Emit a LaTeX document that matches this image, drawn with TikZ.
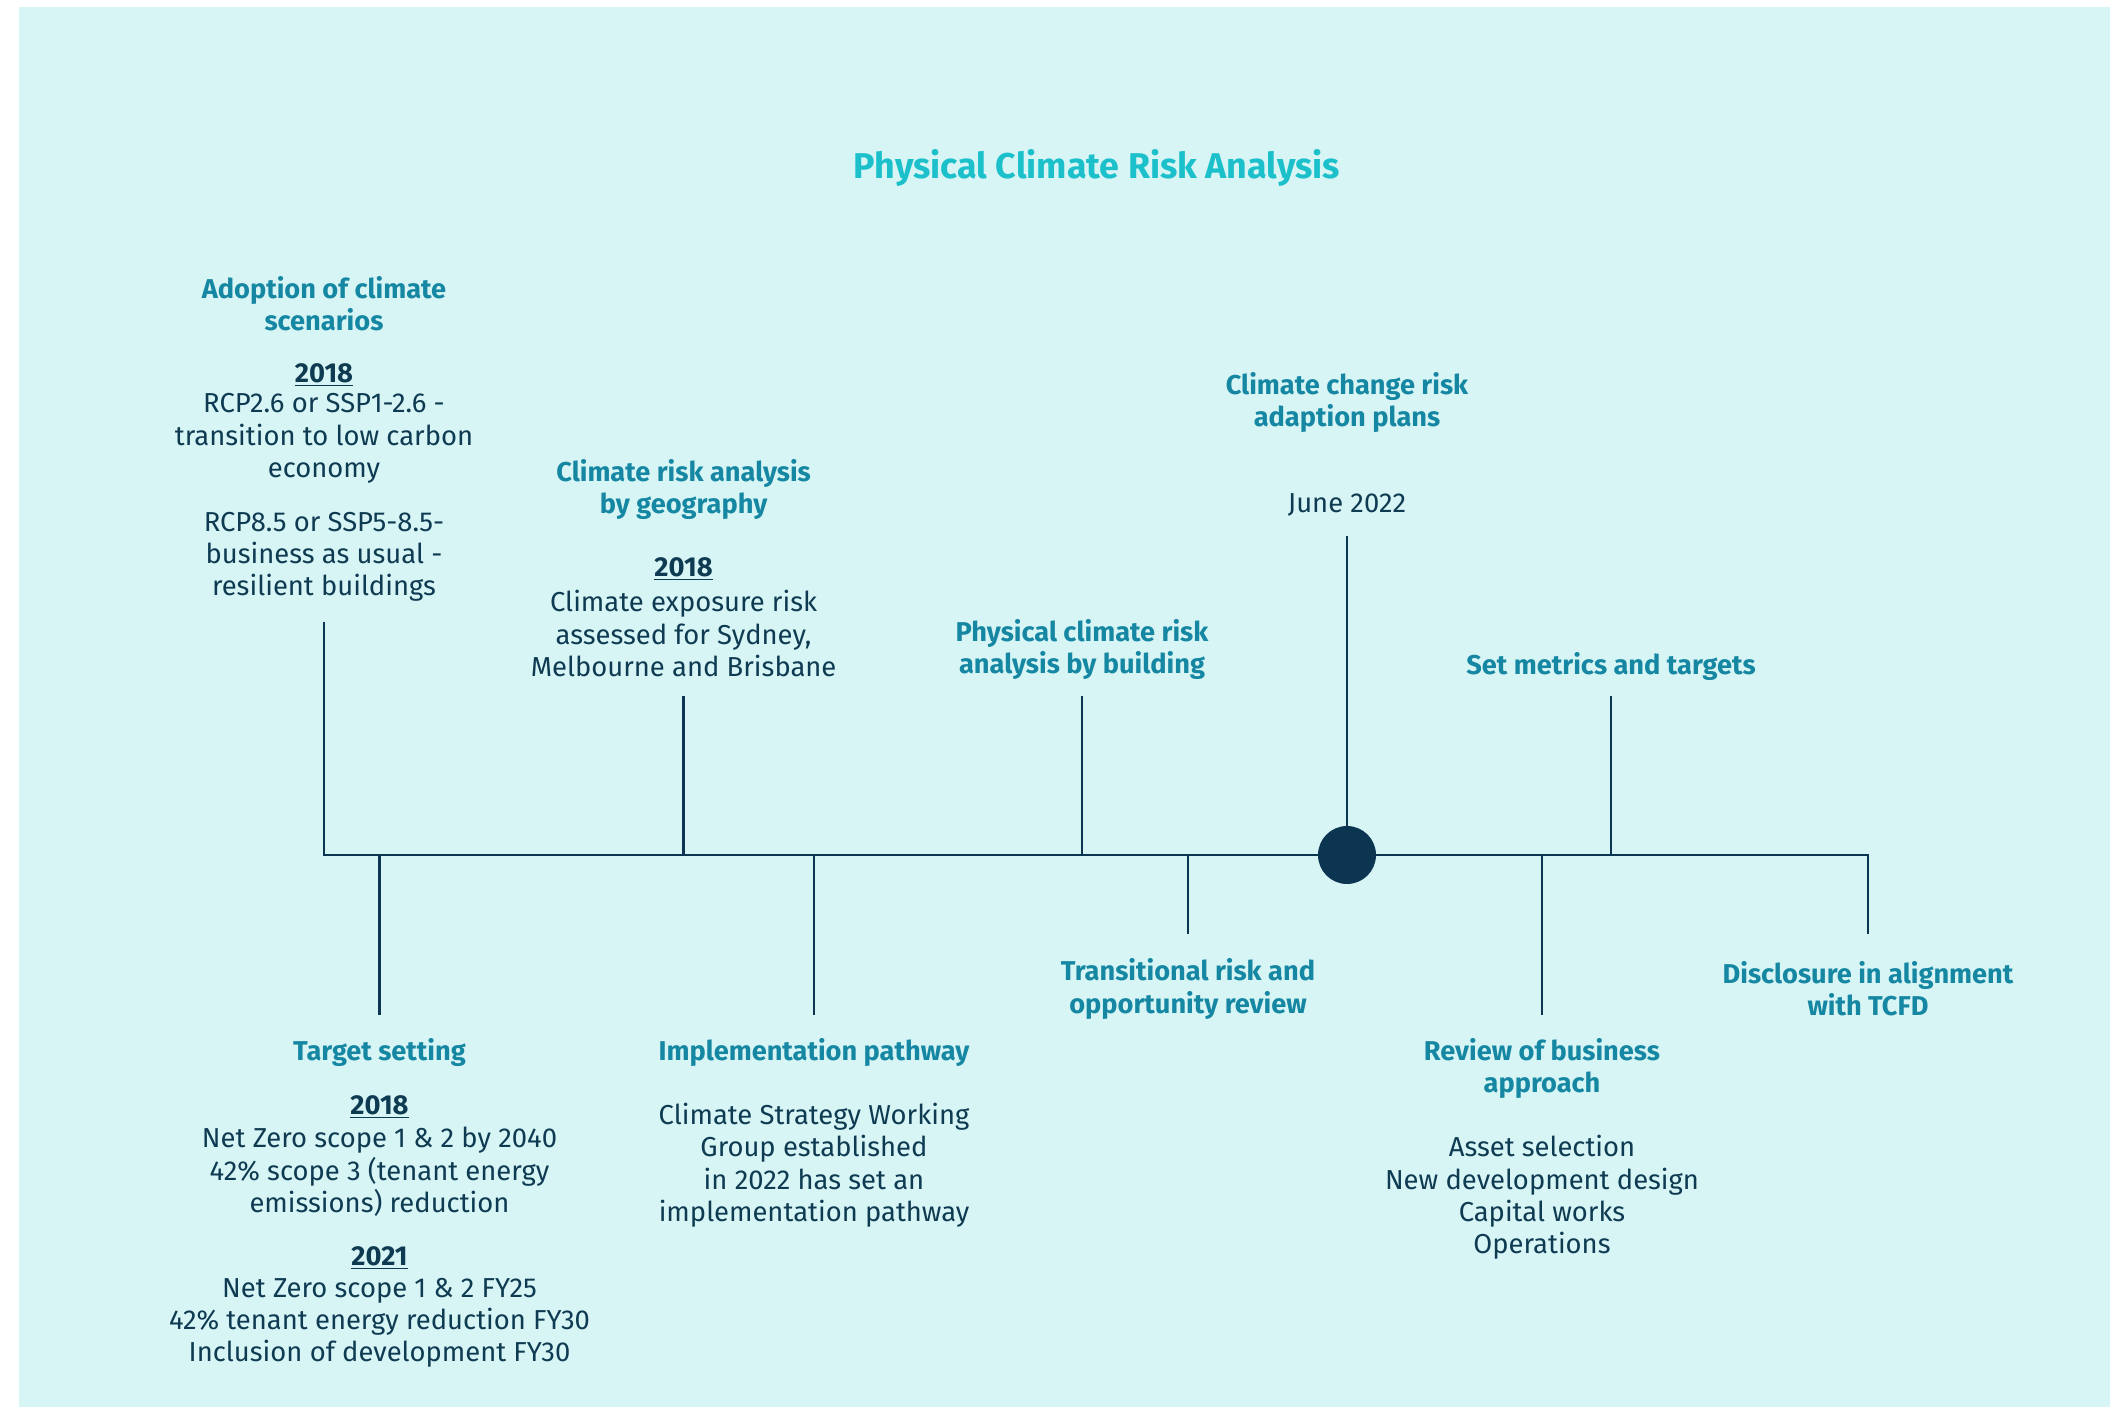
\documentclass[tikz,border=0pt]{standalone}
\usepackage{fontspec}
\setmainfont{Fira Sans}
\definecolor{bgc}{HTML}{D7F5F5}
\definecolor{titlec}{HTML}{1CC0CB}
\definecolor{headc}{HTML}{1687A3}
\definecolor{bodyc}{HTML}{0E3A52}
\definecolor{linec}{HTML}{0B3550}
\begin{document}
\begin{tikzpicture}[x=0.5pt,y=-0.5pt,
  txt/.style={inner sep=0pt,outer sep=0pt,align=center,yshift=-1.3pt},
  head/.style={txt,text=headc,font=\fontsize{13.6}{16.15}\selectfont\bfseries},
  body/.style={txt,text=bodyc,font=\fontsize{13.7}{16.15}\selectfont},
  yr/.style={txt,text=bodyc,font=\fontsize{13.7}{16.15}\selectfont\bfseries},
  ttl/.style={txt,text=titlec,font=\fontsize{17.9}{21}\selectfont\bfseries},
  tick/.style={draw=linec,line width=1.3pt}]
\useasboundingbox (0,0) rectangle (2110,1407);
\fill[white] (0,0) rectangle (2110,1407);
\fill[bgc] (19,7) rectangle (2110,1407);

\node[ttl] (title) at (1097,165.5) {Physical Climate Risk Analysis};

% axis coordinates
\coordinate (aL) at (324,855);
\coordinate (aR) at (1868,855);
\coordinate (aTop) at (324,621.7);
\coordinate (aEnd) at (1868,934);
\draw[tick,line join=miter] (aTop) -- (aL) -- (aR) -- (aEnd);

% upward ticks
\coordinate (g0) at (683.6,855); \coordinate (g1) at (683.6,695.7);
\coordinate (b0) at (1082,855); \coordinate (b1) at (1082,695.7);
\coordinate (c0) at (1347,855); \coordinate (c1) at (1347,535.6);
\coordinate (m0) at (1611,855); \coordinate (m1) at (1611,695.7);
\draw[tick] (g0) -- (g1);
\draw[tick] (b0) -- (b1);
\draw[tick] (c0) -- (c1);
\draw[tick] (m0) -- (m1);
% downward ticks
\coordinate (t0) at (379.5,855); \coordinate (t1) at (379.5,1014.7);
\coordinate (i0) at (814,855); \coordinate (i1) at (814,1014.7);
\coordinate (r0) at (1188,855); \coordinate (r1) at (1188,934);
\coordinate (v0) at (1542,855); \coordinate (v1) at (1542,1014.7);
\draw[tick] (t0) -- (t1);
\draw[tick] (i0) -- (i1);
\draw[tick] (r0) -- (r1);
\draw[tick] (v0) -- (v1);

\fill[linec] (c0) circle[radius=29];

% Adoption of climate scenarios
\node[head] (adoH) at (324,301.3) {Adoption of climate\\scenarios};
\node[yr] (adoY) at (324,372.8) {\underline{2018}};
\node[body] (adoB1) at (324,436) {RCP2.6 or SSP1-2.6 -\\transition to low carbon\\economy};
\node[body] (adoB2) at (324,554.4) {RCP8.5 or SSP5-8.5-\\business as usual -\\resilient buildings};

% Climate risk analysis by geography
\node[head] (geoH) at (683.6,487.2) {Climate risk analysis\\by geography};
\node[yr] (geoY) at (683.6,566.5) {\underline{2018}};
\node[body] (geoB) at (683.6,631.1) {Climate exposure risk\\assessed for Sydney,\\Melbourne and Brisbane};

% Physical climate risk analysis by building
\node[head] (bldH) at (1082,647.2) {Physical climate risk\\analysis by building};

% Climate change risk adaption plans
\node[head] (adpH) at (1347,399.6) {Climate change risk\\adaption plans};
\node[body] (adpB) at (1347,502) {June 2022};

% Set metrics and targets
\node[head] (metH) at (1611,663.4) {Set metrics and targets};

% Target setting
\node[head] (tgtH) at (379.5,1049.6) {Target setting};
\node[yr] (tgtY1) at (379.5,1104.8) {\underline{2018}};
\node[body] (tgtB1) at (379.5,1169.4) {Net Zero scope 1 \& 2 by 2040\\42\% scope 3 (tenant energy\\emissions) reduction};
\node[yr] (tgtY2) at (379.5,1255.5) {\underline{2021}};
\node[body] (tgtB2) at (379.5,1320.1) {Net Zero scope 1 \& 2 FY25\\42\% tenant energy reduction FY30\\Inclusion of development FY30};

% Implementation pathway
\node[head] (impH) at (814,1049.6) {Implementation pathway};
\node[body] (impB) at (814,1162.65) {Climate Strategy Working\\Group established\\in 2022 has set an\\implementation pathway};

% Transitional risk
\node[head] (trnH) at (1188,986.4) {Transitional risk and\\opportunity review};

% Review of business approach
\node[head] (revH) at (1542,1065.8) {Review of business\\approach};
\node[body] (revB) at (1542,1195) {Asset selection\\New development design\\Capital works\\Operations};

% Disclosure
\node[head] (disH) at (1868,986.4) {Disclosure in alignment\\with TCFD};
\end{tikzpicture}
\end{document}
